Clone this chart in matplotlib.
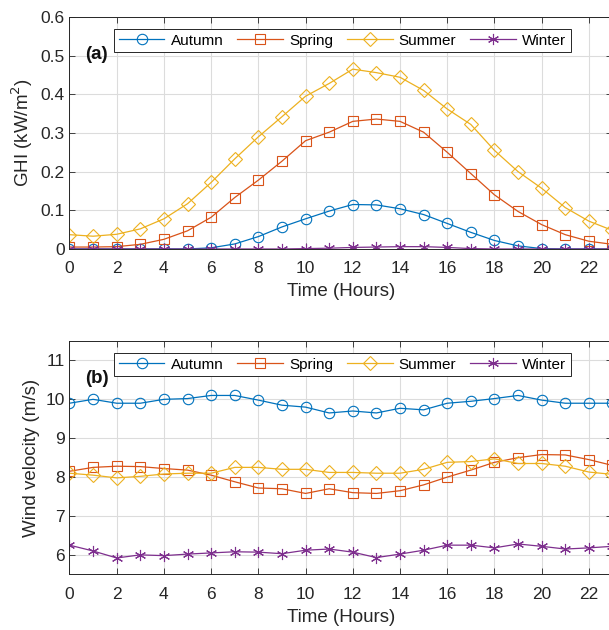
import numpy as np
import matplotlib
matplotlib.use('Agg')
from matplotlib import pyplot as plt

plt.rcParams['font.family'] = ['Liberation Sans', 'DejaVu Sans']

hours = np.arange(24)
seasons = ['Autumn', 'Spring', 'Summer', 'Winter']
colors = ['#0072BD', '#D95319', '#EDB120', '#7E2F8E']
markers = ['o', 's', 'D', (6, 2, 0)]  # last one = asterisk

# GHI (kW/m^2)
ghi_autumn = [0, 0, 0, 0, 0, 0, 0.003, 0.013, 0.032, 0.057, 0.078, 0.098,
              0.115, 0.114, 0.104, 0.089, 0.066, 0.043, 0.022, 0.008, 0.001, 0, 0, 0]
ghi_spring = [0.005, 0.005, 0.006, 0.012, 0.025, 0.047, 0.082, 0.133, 0.178, 0.227, 0.280, 0.302,
              0.330, 0.336, 0.330, 0.302, 0.250, 0.195, 0.140, 0.097, 0.063, 0.037, 0.020, 0.012]
ghi_summer = [0.037, 0.033, 0.038, 0.052, 0.078, 0.117, 0.172, 0.233, 0.290, 0.342, 0.395, 0.428,
              0.465, 0.456, 0.444, 0.410, 0.362, 0.322, 0.255, 0.200, 0.157, 0.107, 0.072, 0.048]
ghi_winter = [0, 0, 0, 0, 0, 0, 0, 0, 0, 0, 0.001, 0.002,
              0.004, 0.005, 0.006, 0.006, 0.004, 0.001, 0, 0, 0, 0, 0, 0]

# wind velocity (m/s)
wind_autumn = [9.9, 10.0, 9.9, 9.9, 10.0, 10.02, 10.1, 10.1, 9.98, 9.85, 9.8, 9.65,
               9.7, 9.65, 9.77, 9.73, 9.9, 9.95, 10.02, 10.1, 9.98, 9.9, 9.9, 9.9]
wind_spring = [8.15, 8.25, 8.28, 8.27, 8.22, 8.18, 8.05, 7.88, 7.72, 7.7, 7.58, 7.7,
               7.6, 7.58, 7.65, 7.8, 8.0, 8.18, 8.38, 8.5, 8.58, 8.57, 8.45, 8.3]
wind_summer = [8.1, 8.05, 7.98, 8.02, 8.08, 8.1, 8.1, 8.25, 8.25, 8.2, 8.2, 8.12,
               8.12, 8.1, 8.1, 8.2, 8.38, 8.4, 8.47, 8.35, 8.35, 8.28, 8.13, 8.07]
wind_winter = [6.25, 6.1, 5.92, 6.0, 5.98, 6.02, 6.05, 6.08, 6.07, 6.03, 6.12, 6.15,
               6.07, 5.93, 6.02, 6.12, 6.25, 6.25, 6.18, 6.28, 6.22, 6.15, 6.18, 6.22]

fig = plt.figure(figsize=(6.09, 6.30), dpi=100)
ax1 = fig.add_axes([0.1141, 0.6048, 0.8916, 0.3683])
ax2 = fig.add_axes([0.1141, 0.0884, 0.8916, 0.3703])

def draw(ax, series, tag, ylabel, ylim, yticks, yticklabels):
    for s, c, m, name in zip(series, colors, markers, seasons):
        ms = {'o': 7.5, 's': 7, 'D': 7}.get(m, 8) if isinstance(m, str) else 8
        ax.plot(hours, s, color=c, marker=m, markersize=ms, markerfacecolor='none',
                markeredgewidth=0.8, linewidth=0.9, label=name)
    ax.set_xlim(0, 23)
    ax.set_ylim(*ylim)
    ax.set_xticks(range(0, 24, 2))
    ax.set_yticks(yticks)
    ax.set_yticklabels(yticklabels)
    ax.grid(True, color='#dcdcdc', linewidth=0.8)
    ax.set_axisbelow(True)
    ax.tick_params(direction='in', top=True, right=True, labelsize=12.5,
                   colors='#262626', length=4, width=0.6)
    ax.xaxis.set_tick_params(pad=9)
    for sp in ax.spines.values():
        sp.set_color('#262626')
        sp.set_linewidth(0.7)
    ax.set_xlabel('Time (Hours)', fontsize=13.5, color='#262626', labelpad=5)
    ax.set_ylabel(ylabel, fontsize=13.5, color='#262626')
    ax.text(0.029, 0.84, tag, transform=ax.transAxes, fontsize=13.5, va='center',
            fontweight='bold', color='#111111')
    leg = ax.legend(loc='upper left', bbox_to_anchor=(0.082, 0.948), ncol=4,
                    fontsize=11, frameon=True, fancybox=False, borderpad=0.3,
                    columnspacing=0.9, handlelength=3.0, handletextpad=0.4,
                    borderaxespad=0, framealpha=1)
    leg.get_frame().set_edgecolor('#262626')
    leg.get_frame().set_linewidth(0.7)

draw(ax1, [ghi_autumn, ghi_spring, ghi_summer, ghi_winter], '(a)',
     'GHI (kW/m$^2$)', (0, 0.6), np.arange(0, 0.61, 0.1),
     ['0', '0.1', '0.2', '0.3', '0.4', '0.5', '0.6'])
draw(ax2, [wind_autumn, wind_spring, wind_summer, wind_winter], '(b)',
     'Wind velocity (m/s)', (5.5, 11.5), [6, 7, 8, 9, 10, 11],
     ['6', '7', '8', '9', '10', '11'])

fig.savefig('out.png', dpi=100)
